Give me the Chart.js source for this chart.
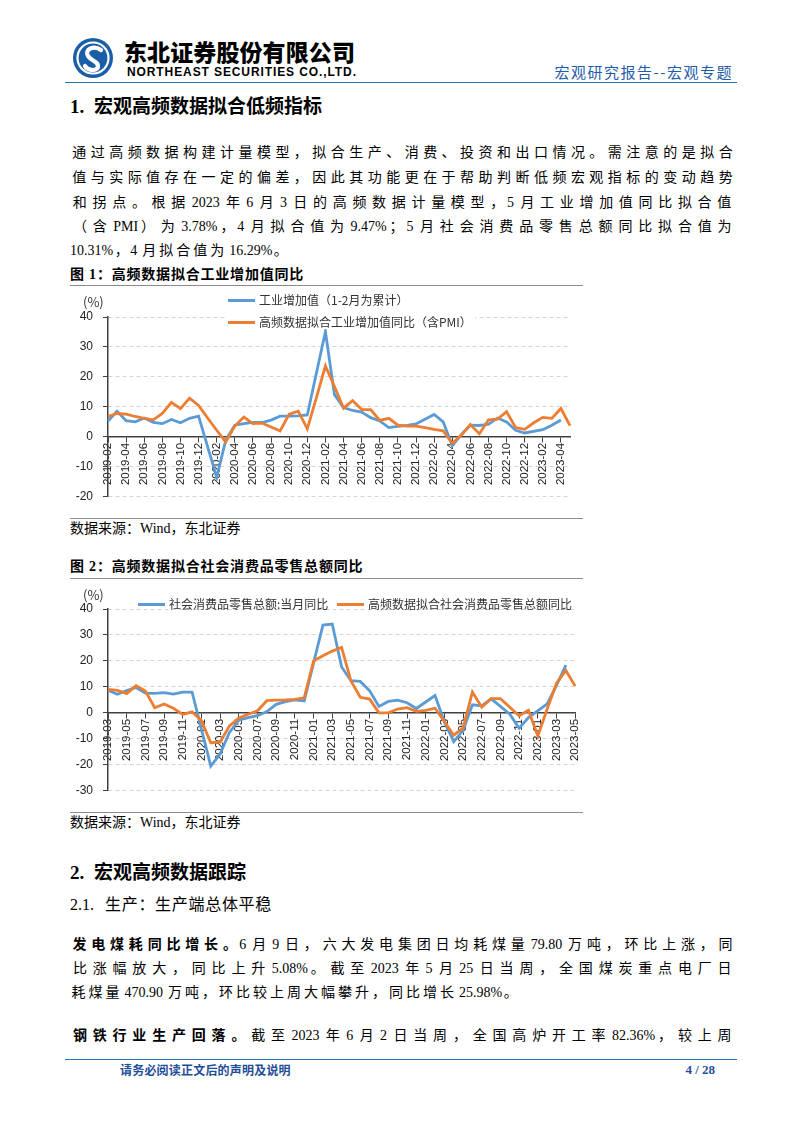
<!DOCTYPE html>
<html>
<head>
<meta charset="utf-8">
<script src="https://cdn.jsdelivr.net/npm/chart.js@4.4.0/dist/chart.umd.min.js"></script>
<style>
  body { margin: 0; background: #fff; }
  #page { position: relative; width: 802px; height: 1133px; overflow: hidden; background: #fff;
          font-family: "Liberation Serif", "Noto Sans CJK SC", serif; color: #000; }
  .abs { position: absolute; white-space: nowrap; }
  .line { position: absolute; left: 70px; height: 20px; line-height: 20px; font-size: 14px; white-space: nowrap; }
  .h1 { font-size: 19px; font-weight: bold; line-height: 24px; }
  .h1 .n { display: inline-block; width: 24px; }
  .cap { font-size: 14px; font-weight: bold; line-height: 18px; letter-spacing: 0.8px; }
  .src { font-size: 14px; line-height: 18px; }
  .rule { position: absolute; left: 70px; width: 513px; height: 0; border-top: 1.5px solid #8c8c8c; }
  .blue { position: absolute; left: 65px; width: 672px; height: 0; border-top: 1.5px solid #2e74b5; }
  .leg { position: absolute; height: 14px; line-height: 14px; font-size: 12px; color: #333; white-space: nowrap;
         font-family: "Noto Sans CJK SC", sans-serif; display: flex; align-items: center; }
  .sw { display: inline-block; width: 27px; height: 3px; margin-right: 4px; }
  .unit { position: absolute; font-size: 13px; color: #333; font-family: "Noto Sans CJK SC", sans-serif; }
  canvas { position: absolute; }
</style>
</head>
<body>
<div id="page">
  <!-- header -->
  <svg class="abs" style="left:72px;top:37px" width="42" height="42" viewBox="0 0 42 42">
    <circle cx="21" cy="21" r="20" fill="#1a5ea8"/>
    <circle cx="21" cy="21" r="15.5" fill="none" stroke="#fff" stroke-width="2.2"/>
    <path d="M29 13 C22 8 12 12 16 19 C20 25 27 24 26 30 C24 35 15 33 13 29" stroke="#fff" stroke-width="4.2" fill="none" stroke-linecap="round"/>
  </svg>
  <div class="abs" style="left:124px;top:37px;font-size:23px;line-height:28px;font-weight:900;font-family:'Noto Sans CJK SC',sans-serif;letter-spacing:0.1px">东北证券股份有限公司</div>
  <div class="abs" style="left:127px;top:66px;font-size:12px;line-height:13px;font-weight:bold;font-family:'Liberation Sans',sans-serif;letter-spacing:0.9px">NORTHEAST SECURITIES CO.,LTD.</div>
  <div class="abs" style="right:69px;top:62px;font-size:15px;line-height:20px;color:#1f5ba8;letter-spacing:1.5px;font-family:'Noto Sans CJK SC',sans-serif">宏观研究报告--宏观专题</div>
  <div class="blue" style="top:82px"></div>

  <!-- section 1 -->
  <div class="abs h1" style="left:70px;top:95px"><span class="n">1.</span>宏观高频数据拟合低频指标</div>
  <div class="line fill" style="top:143px">通过高频数据构建计量模型，拟合生产、消费、投资和出口情况。需注意的是拟合</div>
  <div class="line fill" style="top:168px">值与实际值存在一定的偏差，因此其功能更在于帮助判断低频宏观指标的变动趋势</div>
  <div class="line fill" style="top:193px">和拐点。根据 2023 年 6 月 3 日的高频数据计量模型，5 月工业增加值同比拟合值</div>
  <div class="line fill" style="top:217px">（含 PMI）为 3.78%，4 月拟合值为 9.47%；5 月社会消费品零售总额同比拟合值为</div>
  <div class="line open" style="top:241px">10.31%，4 月拟合值为 16.29%。</div>

  <!-- figure 1 -->
  <div class="abs cap" style="left:70px;top:266px">图 1：高频数据拟合工业增加值同比</div>
  <div class="rule" style="top:285px"></div>
  <canvas id="chart1" width="520" height="226" style="left:65px;top:288px"></canvas>
  <div class="unit" style="left:83px;top:292px">(%)</div>
  <div class="leg" style="left:228px;top:293px"><i class="sw" style="background:#5b9bd5"></i>工业增加值（1-2月为累计）</div>
  <div class="leg" style="left:226px;top:315px;background:#fff;padding:0 3px 0 2px"><i class="sw" style="background:#ed7d31"></i>高频数据拟合工业增加值同比（含PMI）</div>
  <div class="rule" style="top:518px"></div>
  <div class="abs src" style="left:70px;top:520px">数据来源：Wind，东北证券</div>

  <!-- figure 2 -->
  <div class="abs cap" style="left:70px;top:558px">图 2：高频数据拟合社会消费品零售总额同比</div>
  <div class="rule" style="top:578px"></div>
  <canvas id="chart2" width="525" height="220" style="left:65px;top:588px"></canvas>
  <div class="unit" style="left:83px;top:585px">(%)</div>
  <div class="leg" style="left:138px;top:597px"><i class="sw" style="background:#5b9bd5"></i>社会消费品零售总额:当月同比</div>
  <div class="leg" style="left:337px;top:597px"><i class="sw" style="background:#ed7d31"></i>高频数据拟合社会消费品零售总额同比</div>
  <div class="rule" style="top:812px"></div>
  <div class="abs src" style="left:70px;top:814px">数据来源：Wind，东北证券</div>

  <!-- section 2 -->
  <div class="abs h1" style="left:70px;top:861px"><span class="n">2.</span>宏观高频数据跟踪</div>
  <div class="abs" style="left:70px;top:895px;font-size:16px;line-height:20px"><span style="display:inline-block;width:35px">2.1.</span><span style="letter-spacing:0.7px">生产：生产端总体平稳</span></div>
  <div class="line fill" style="top:935px"><b>发电煤耗同比增长。</b>6 月 9 日，六大发电集团日均耗煤量 79.80 万吨，环比上涨，同</div>
  <div class="line fill" style="top:959px">比涨幅放大，同比上升 5.08%。截至 2023 年 5 月 25 日当周，全国煤炭重点电厂日</div>
  <div class="line open" style="top:983px">耗煤量 470.90 万吨，环比较上周大幅攀升，同比增长 25.98%。</div>
  <div class="line fill" style="top:1026px"><b>钢铁行业生产回落。</b>截至 2023 年 6 月 2 日当周，全国高炉开工率 82.36%，较上周</div>

  <!-- footer -->
  <div class="blue" style="top:1059px"></div>
  <div class="abs" style="left:120px;top:1062px;font-size:12px;line-height:16px;font-weight:bold;color:#1f4e99;letter-spacing:0.2px;font-family:'Noto Sans CJK SC',sans-serif">请务必阅读正文后的声明及说明</div>
  <div class="abs" style="right:87px;top:1062px;font-size:13px;line-height:16px;font-weight:bold;color:#1f4e99">4 / 28</div>
</div>

<script>
// months shown on chart 1 (industrial value added)
const months1 = [
  '2019-02','2019-03','2019-04','2019-05','2019-06','2019-07','2019-08','2019-09','2019-10','2019-11','2019-12',
  '2020-01','2020-02','2020-03','2020-04','2020-05','2020-06','2020-07','2020-08','2020-09','2020-10','2020-11','2020-12',
  '2021-01','2021-02','2021-03','2021-04','2021-05','2021-06','2021-07','2021-08','2021-09','2021-10','2021-11','2021-12',
  '2022-01','2022-02','2022-03','2022-04','2022-05','2022-06','2022-07','2022-08','2022-09','2022-10','2022-11','2022-12',
  '2023-01','2023-02','2023-03','2023-04','2023-05'
];
// 工业增加值 (Jan-Feb reported together, so January is empty)
const ivaActual = [
  5.3, 8.5, 5.4, 5.0, 6.3, 4.8, 4.4, 5.8, 4.7, 6.2, 6.9,
  null, -13.5, -1.1, 3.9, 4.4, 4.8, 4.8, 5.6, 6.9, 6.9, 7.0, 7.3,
  null, 35.1, 14.1, 9.8, 8.8, 8.3, 6.4, 5.3, 3.1, 3.5, 3.8, 4.3,
  null, 7.5, 5.0, -2.9, 0.7, 3.9, 3.8, 4.2, 6.3, 5.0, 2.2, 1.3,
  null, 2.4, 3.9, 5.6, null
];
// 高频数据拟合工业增加值同比（含PMI）
const ivaFit = [
  6.8, 7.8, 7.6, 6.8, 6.2, 5.7, 7.8, 11.5, 9.4, 12.9, 10.5,
  6.3, 2.2, -1.7, 3.6, 6.6, 4.4, 4.6, 3.3, 2.0, 7.6, 8.6, 2.7,
  13.0, 23.7, 16.8, 9.6, 12.1, 9.1, 9.1, 5.5, 6.2, 3.9, 3.6, 3.6,
  3.1, 2.5, 2.0, -2.2, 0.6, 4.1, 1.0, 5.7, 5.9, 8.4, 3.1, 2.5,
  4.7, 6.5, 6.2, 9.47, 3.78
];

// months shown on chart 2 (retail sales)
const months2 = [
  '2019-03','2019-04','2019-05','2019-06','2019-07','2019-08','2019-09','2019-10','2019-11','2019-12',
  '2020-01','2020-02','2020-03','2020-04','2020-05','2020-06','2020-07','2020-08','2020-09','2020-10','2020-11','2020-12',
  '2021-01','2021-02','2021-03','2021-04','2021-05','2021-06','2021-07','2021-08','2021-09','2021-10','2021-11','2021-12',
  '2022-01','2022-02','2022-03','2022-04','2022-05','2022-06','2022-07','2022-08','2022-09','2022-10','2022-11','2022-12',
  '2023-01','2023-02','2023-03','2023-04','2023-05'
];
// 社会消费品零售总额:当月同比
const retailActual = [
  8.7, 7.2, 8.6, 9.8, 7.6, 7.5, 7.8, 7.2, 8.0, 8.0,
  null, -20.5, -15.8, -7.5, -2.8, -1.8, -1.1, 0.5, 3.3, 4.3, 5.0, 4.6,
  null, 33.8, 34.2, 17.7, 12.4, 12.1, 8.5, 2.5, 4.4, 4.9, 3.9, 1.7,
  null, 6.7, -3.5, -11.1, -6.7, 3.1, 2.7, 5.4, 2.5, -0.5, -5.9, -1.8,
  null, 3.5, 10.6, 18.4, null
];
// 高频数据拟合社会消费品零售总额同比
const retailFit = [
  9.0, 8.7, 7.4, 10.5, 8.4, 2.0, 3.4, 1.8, -0.6, 0.4,
  -3.0, -11.5, -11.3, -5.0, -2.0, -0.5, 0.8, 4.7, 4.9, 5.0, 5.2, 5.8,
  20.0, 22.0, 23.8, 25.2, 12.3, 6.0, 5.3, 0.0, 0.0, 1.5, 2.0, 0.6,
  1.0, 1.8, -3.3, -8.6, -5.8, 8.0, 2.2, 5.5, 5.5, 2.2, -1.1, 1.0,
  -8.9, 1.5, 11.4, 16.29, 10.31
];

const BLUE = '#5b9bd5';
const ORANGE = '#ed7d31';
const AXIS = '#404040';
const NONE = 'rgba(0,0,0,0)';

// body text sits on a character grid: spread only the CJK characters, evenly on both sides
const CJK = /[\u3000-\u303f\u4e00-\u9fff\uff00-\uffef]/;
function gridLine(el, target, fixed) {
  const walker = document.createTreeWalker(el, NodeFilter.SHOW_TEXT);
  const nodes = [];
  while (walker.nextNode()) nodes.push(walker.currentNode);
  const cells = [];
  nodes.forEach(n => {
    const frag = document.createDocumentFragment();
    let run = '';
    for (const ch of n.textContent) {
      if (CJK.test(ch)) {
        if (run) { frag.appendChild(document.createTextNode(run)); run = ''; }
        const s = document.createElement('span');
        s.textContent = ch;
        cells.push(s);
        frag.appendChild(s);
      } else run += ch;
    }
    if (run) frag.appendChild(document.createTextNode(run));
    n.parentNode.replaceChild(frag, n);
  });
  let gap = fixed;
  if (target) {
    const natural = el.getBoundingClientRect().width;
    gap = (target - natural) / Math.max(cells.length, 1);
  }
  cells.forEach(s => { s.style.padding = '0 ' + (gap / 2) + 'px'; });
}
document.querySelectorAll('.line.fill').forEach(el => gridLine(el, 665, 0));
document.querySelectorAll('.line.open').forEach(el => gridLine(el, 0, 3));

function makeChart(id, labels, actual, fit, yMin, yMax, pad) {
  return new Chart(document.getElementById(id), {
    type: 'line',
    data: {
      labels: labels,
      datasets: [
        { data: actual, borderColor: BLUE, borderWidth: 2.8, pointRadius: 0, spanGaps: true, order: 1 },
        { data: fit, borderColor: ORANGE, borderWidth: 2.8, pointRadius: 0, spanGaps: true, order: 0 }
      ]
    },
    options: {
      responsive: false,
      animation: false,
      layout: { padding: pad },
      plugins: { legend: { display: false }, tooltip: { enabled: false } },
      scales: {
        x: {
          type: 'category',
          offset: false,
          position: { y: 0 },
          grid: {
            drawOnChartArea: false,
            tickLength: 5,
            tickColor: c => (c.index % 2 === 0 ? AXIS : NONE)
          },
          border: { color: AXIS, width: 1.5 },
          ticks: {
            autoSkip: false,
            minRotation: 90,
            maxRotation: 90,
            padding: 1,
            color: '#222',
            font: { family: 'Liberation Sans', size: 11.5 },
            callback: (v, i) => (i % 2 === 0 ? labels[i] : '')
          }
        },
        y: {
          min: yMin,
          max: yMax,
          ticks: {
            stepSize: 10,
            padding: 10,
            color: '#222',
            font: { family: 'Liberation Sans', size: 12 }
          },
          grid: {
            color: c => (c.tick && c.tick.value === 0 ? NONE : '#d4d4d4'),
            tickLength: 5,
            tickColor: AXIS
          },
          border: { color: AXIS, width: 1.5, dash: [4, 3] },
          afterFit: s => { s.width = 43; }
        }
      }
    }
  });
}

makeChart('chart1', months1, ivaActual, ivaFit, -20, 40, { left: 0, right: 15, top: 29, bottom: 8 });
makeChart('chart2', months2, retailActual, retailFit, -30, 40, { left: 0, right: 0, top: 21, bottom: 9 });
</script>
</body>
</html>
